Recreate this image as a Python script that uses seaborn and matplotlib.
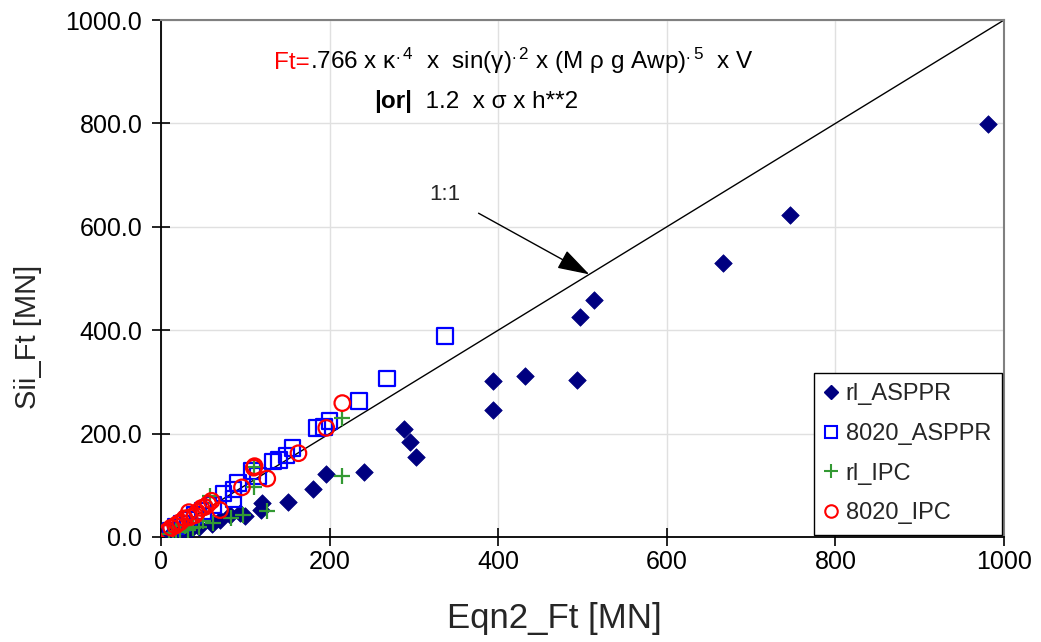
import matplotlib
matplotlib.use("Agg")
import matplotlib.pyplot as plt
import seaborn as sns
import pandas as pd
import numpy as np
from matplotlib.lines import Line2D
from matplotlib.transforms import offset_copy

# ---------------- data ----------------
rl_asppr_x = [981, 746, 667, 514, 497, 432, 494, 394, 394, 288, 295, 302, 241, 196, 180, 151,
              120, 119, 94, 82, 100, 70, 60, 45, 35, 25, 18, 12]
rl_asppr_y = [799, 623, 530, 458, 426, 311, 304, 302, 246, 209, 184, 155, 126, 122, 93, 68,
              66, 52, 46, 43, 40, 33, 25, 20, 15, 10, 7, 5]

a8020_asppr_x = [337, 268, 235, 200, 193, 185, 156, 149, 140, 133, 115, 108, 91, 86, 86, 74,
                 62, 50, 40, 32, 25, 18, 12, 8]
a8020_asppr_y = [389, 307, 263, 224, 213, 211, 172, 158, 149, 146, 118, 128, 104, 92, 73, 84,
                 62, 50, 42, 33, 26, 20, 12, 8]

rl_ipc_x = [215, 215, 110, 110, 126, 97, 83, 62, 58, 50, 45, 38, 32, 28, 22, 18, 14, 10]
rl_ipc_y = [230, 118, 136, 96, 51, 42, 36, 27, 80, 30, 20, 18, 14, 22, 10, 12, 8, 5]

a8020_ipc_x = [215, 196, 163, 110, 111, 126, 96, 70, 60, 56, 52, 48, 43, 40, 33, 34, 28, 23,
               20, 17, 12, 8, 5]
a8020_ipc_y = [259, 211, 162, 134, 137, 113, 96, 52, 70, 64, 58, 56, 48, 42, 48, 38, 36, 29,
               26, 22, 18, 12, 8]

series_names = ["rl_ASPPR", "8020_ASPPR", "rl_IPC", "8020_IPC"]
x_ticks = [0, 200, 400, 600, 800, 1000]
y_ticks = [0, 200, 400, 600, 800, 1000]
one_to_one = [0, 1000]

# ---------------- style ----------------
sns.set_theme(style="white")
plt.rcParams["font.family"] = ["Liberation Sans", "DejaVu Sans"]
plt.rcParams["mathtext.fontset"] = "custom"
plt.rcParams["mathtext.rm"] = "Liberation Sans"
plt.rcParams["mathtext.it"] = "Liberation Sans:italic"
plt.rcParams["mathtext.bf"] = "Liberation Sans:bold"

fig, ax = plt.subplots(figsize=(10.41, 6.42), dpi=100)
fig.subplots_adjust(left=0.1547, right=0.9645, top=0.9688, bottom=0.1636)

df_rl_asppr = pd.DataFrame({"x": rl_asppr_x, "y": rl_asppr_y})
df_8020_asppr = pd.DataFrame({"x": a8020_asppr_x, "y": a8020_asppr_y})
df_rl_ipc = pd.DataFrame({"x": rl_ipc_x, "y": rl_ipc_y})
df_8020_ipc = pd.DataFrame({"x": a8020_ipc_x, "y": a8020_ipc_y})

navy = "#000080"
blue = "#0000FF"
green = "#339933"
red = "#FF0000"

sns.scatterplot(data=df_rl_asppr, x="x", y="y", ax=ax, marker="D", s=80,
                color=navy, edgecolor=navy, linewidth=0.5, zorder=3)
sns.scatterplot(data=df_8020_asppr, x="x", y="y", ax=ax, marker="s", s=125,
                facecolor="none", edgecolor=blue, linewidth=1.6, zorder=3)
sns.scatterplot(data=df_rl_ipc, x="x", y="y", ax=ax, marker="+", s=140,
                color=green, linewidth=1.6, zorder=3)
sns.scatterplot(data=df_8020_ipc, x="x", y="y", ax=ax, marker="o", s=125,
                facecolor="none", edgecolor=red, linewidth=1.6, zorder=4)

sns.lineplot(x=one_to_one, y=one_to_one, ax=ax, color="black", linewidth=1.0, zorder=2)

ax.set_xlim(0, 1000)
ax.set_ylim(0, 1000)
ax.set_xticks(x_ticks)
ax.set_yticks(y_ticks)
ax.set_xticklabels([f"{v:d}" for v in x_ticks])
ax.set_yticklabels([f"{v:.1f}" for v in y_ticks])
ax.tick_params(axis="both", which="major", direction="inout", length=13, width=1.2,
               color="black", labelsize=18, labelcolor="black",
               bottom=True, left=True, top=False, right=False)
ax.tick_params(axis="x", pad=3)
ax.tick_params(axis="y", pad=7)
ax.grid(True, color="#e0e0e0", linewidth=1.0, zorder=0)
ax.set_axisbelow(True)

for side in ["left", "bottom"]:
    ax.spines[side].set_color("black")
    ax.spines[side].set_linewidth(1.3)
for side in ["top", "right"]:
    ax.spines[side].set_color("#808080")
    ax.spines[side].set_linewidth(1.5)

ax.set_xlabel("Eqn2_Ft [MN]", fontsize=25)
ax.set_ylabel("Sii_Ft [MN]", fontsize=21)
ax.xaxis.set_label_coords(0.467, -0.125)
ax.yaxis.set_label_coords(-0.141, 0.387)

# formula annotation (baseline aligned pieces)
fs = 17.5
t1 = ax.text(0.134, 0.905, "Ft=", transform=ax.transAxes, fontsize=fs,
             color=red, va="baseline", ha="left")
t2 = ax.text(0.2527, 0.829, "|or|", transform=ax.transAxes, fontsize=fs,
             color="black", fontweight="bold", va="baseline", ha="left")
fig.canvas.draw()
r = fig.canvas.get_renderer()
w1 = t1.get_window_extent(r).width
w2 = t2.get_window_extent(r).width
ax.text(0.134, 0.905,
        r".766 x κ$^{.4}$  x  sin(γ)$^{.2}$ x (M ρ g Awp)$^{.5}$  x V",
        transform=offset_copy(ax.transAxes, fig=fig, x=w1, y=0, units="dots"),
        fontsize=fs, color="black", va="baseline", ha="left")
ax.text(0.2527, 0.829, "  1.2  x σ x h**2",
        transform=offset_copy(ax.transAxes, fig=fig, x=w2, y=0, units="dots"),
        fontsize=fs, color="black", va="baseline", ha="left")

# 1:1 arrow
ax.annotate("1:1", xy=(508, 508), xytext=(337, 662), textcoords="data",
            fontsize=16, ha="center", va="center",
            arrowprops=dict(arrowstyle="-|>,head_length=0.8,head_width=0.25",
                            color="black", lw=1.0,
                            mutation_scale=25, shrinkA=12, shrinkB=0))

# legend
handles = [
    Line2D([], [], linestyle="none", marker="D", markersize=7, color=navy),
    Line2D([], [], linestyle="none", marker="s", markersize=9, markerfacecolor="none",
           markeredgecolor=blue, markeredgewidth=1.5),
    Line2D([], [], linestyle="none", marker="+", markersize=10, color=green,
           markeredgewidth=1.5),
    Line2D([], [], linestyle="none", marker="o", markersize=9, markerfacecolor="none",
           markeredgecolor=red, markeredgewidth=1.5),
]
leg = ax.legend(handles, series_names, loc="lower right", bbox_to_anchor=(0.997, 0.004),
                borderaxespad=0, fontsize=17, frameon=True, fancybox=False,
                edgecolor="black", framealpha=1, handlelength=0.6, handletextpad=0.3,
                labelspacing=0.75, borderpad=0.45)
leg.get_frame().set_linewidth(1.0)

fig.savefig("out.png", dpi=100)
